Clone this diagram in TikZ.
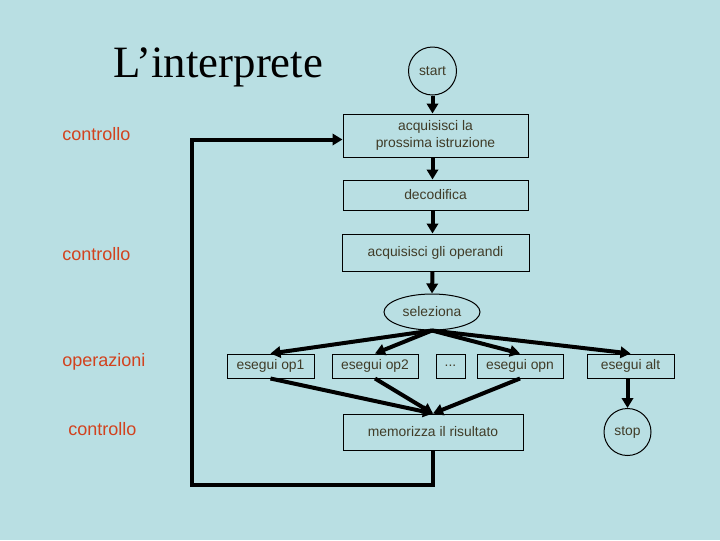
\documentclass[tikz,border=0pt]{standalone}
\usepackage{fontspec}
\setmainfont{Liberation Sans}
\newfontfamily\titlefont{Liberation Serif}
\usetikzlibrary{arrows.meta,shapes.geometric}
\definecolor{bg}{HTML}{B9DFE3}
\definecolor{boxtext}{HTML}{403C28}
\definecolor{red}{HTML}{D2421E}

\begin{document}
\begin{tikzpicture}[x=0.75pt,y=0.75pt,yscale=-1,xscale=1,
	box/.style={draw,rectangle,line width=0.75pt,inner sep=0pt,text=boxtext,align=center,font=\fontsize{10.4}{12.5}\selectfont},
	roundbox/.style={draw,circle,line width=0.75pt,inner sep=0pt,text=boxtext,font=\fontsize{10.4}{12.5}\selectfont},
	flow/.style={line width=3pt,-{Triangle[length=7.5pt,width=8.5pt]}},
	side/.style={anchor=west,inner sep=0pt,text=red,font=\fontsize{13.5}{16}\selectfont}]
	\fill[bg] (0,0) rectangle (720,540);
	\useasboundingbox (0,0) rectangle (720,540);
	% titolo e commenti a sinistra
	\node (titolo) [anchor=base west,inner sep=0pt,font=\titlefont\fontsize{33.6}{38}\selectfont] at (113,77) {L’interprete};
	\node (ctrl1) [side] at (62,134) {controllo};
	\node (ctrl2) [side] at (62,254) {controllo};
	\node (oper) [side] at (62,362) {operazioni};
	\node (ctrl3) [side] at (68,429) {controllo};
	% ciclo principale
	\node (start) [roundbox,minimum size=36pt] at (432.5,71) {start};
	\node (acq1) [box,minimum width=138.75pt,minimum height=32.25pt] at (435.5,135.5) {acquisisci la\\prossima istruzione};
	\node (decod) [box,minimum width=138.75pt,minimum height=22.5pt] at (435.5,195) {decodifica};
	\node (acq2) [box,minimum width=140.25pt,minimum height=27.75pt] at (435.5,252.5) {acquisisci gli operandi};
	\node (sel) [box,ellipse,minimum width=72pt,minimum height=27pt] at (432,312) {seleziona};
	\node (op1) [box,minimum width=65.25pt,minimum height=18pt] at (270.5,366) {esegui op1};
	\node (op2) [box,minimum width=64.5pt,minimum height=18pt] at (375,366) {esegui op2};
	\node (dots) [box,minimum width=21.75pt,minimum height=18pt] at (450.5,366) {...};
	\node (opn) [box,minimum width=64.5pt,minimum height=18pt] at (520,366) {esegui opn};
	\node (alt) [box,minimum width=65.25pt,minimum height=18pt] at (630.5,366) {esegui alt};
	\node (mem) [box,minimum width=135pt,minimum height=27pt] at (433,432) {memorizza il risultato};
	\node (stop) [roundbox,minimum size=35.25pt] at (627.5,432) {stop};
	\coordinate (ritorno) at (192,485);
	% frecce
	\draw [flow] (start.south) -- (start.south |- acq1.north);
	\draw [flow] (start.south |- acq1.south) -- (start.south |- decod.north);
	\draw [flow] (start.south |- decod.south) -- (start.south |- acq2.north);
	\draw [flow] (start.south |- acq2.south) -- (sel.north);
	\foreach \op in {op1,op2,opn,alt}
		\draw [flow] (sel.south) -- (\op.north);
	\foreach \op in {op1,op2,opn}
		\draw [flow] (\op.south) -- (mem.north);
	\draw [flow] (stop.north |- alt.south) -- (stop.north);
	\draw [flow] (mem.south) |- (ritorno) |- ([yshift=3pt]acq1.west);
\end{tikzpicture}
\end{document}
